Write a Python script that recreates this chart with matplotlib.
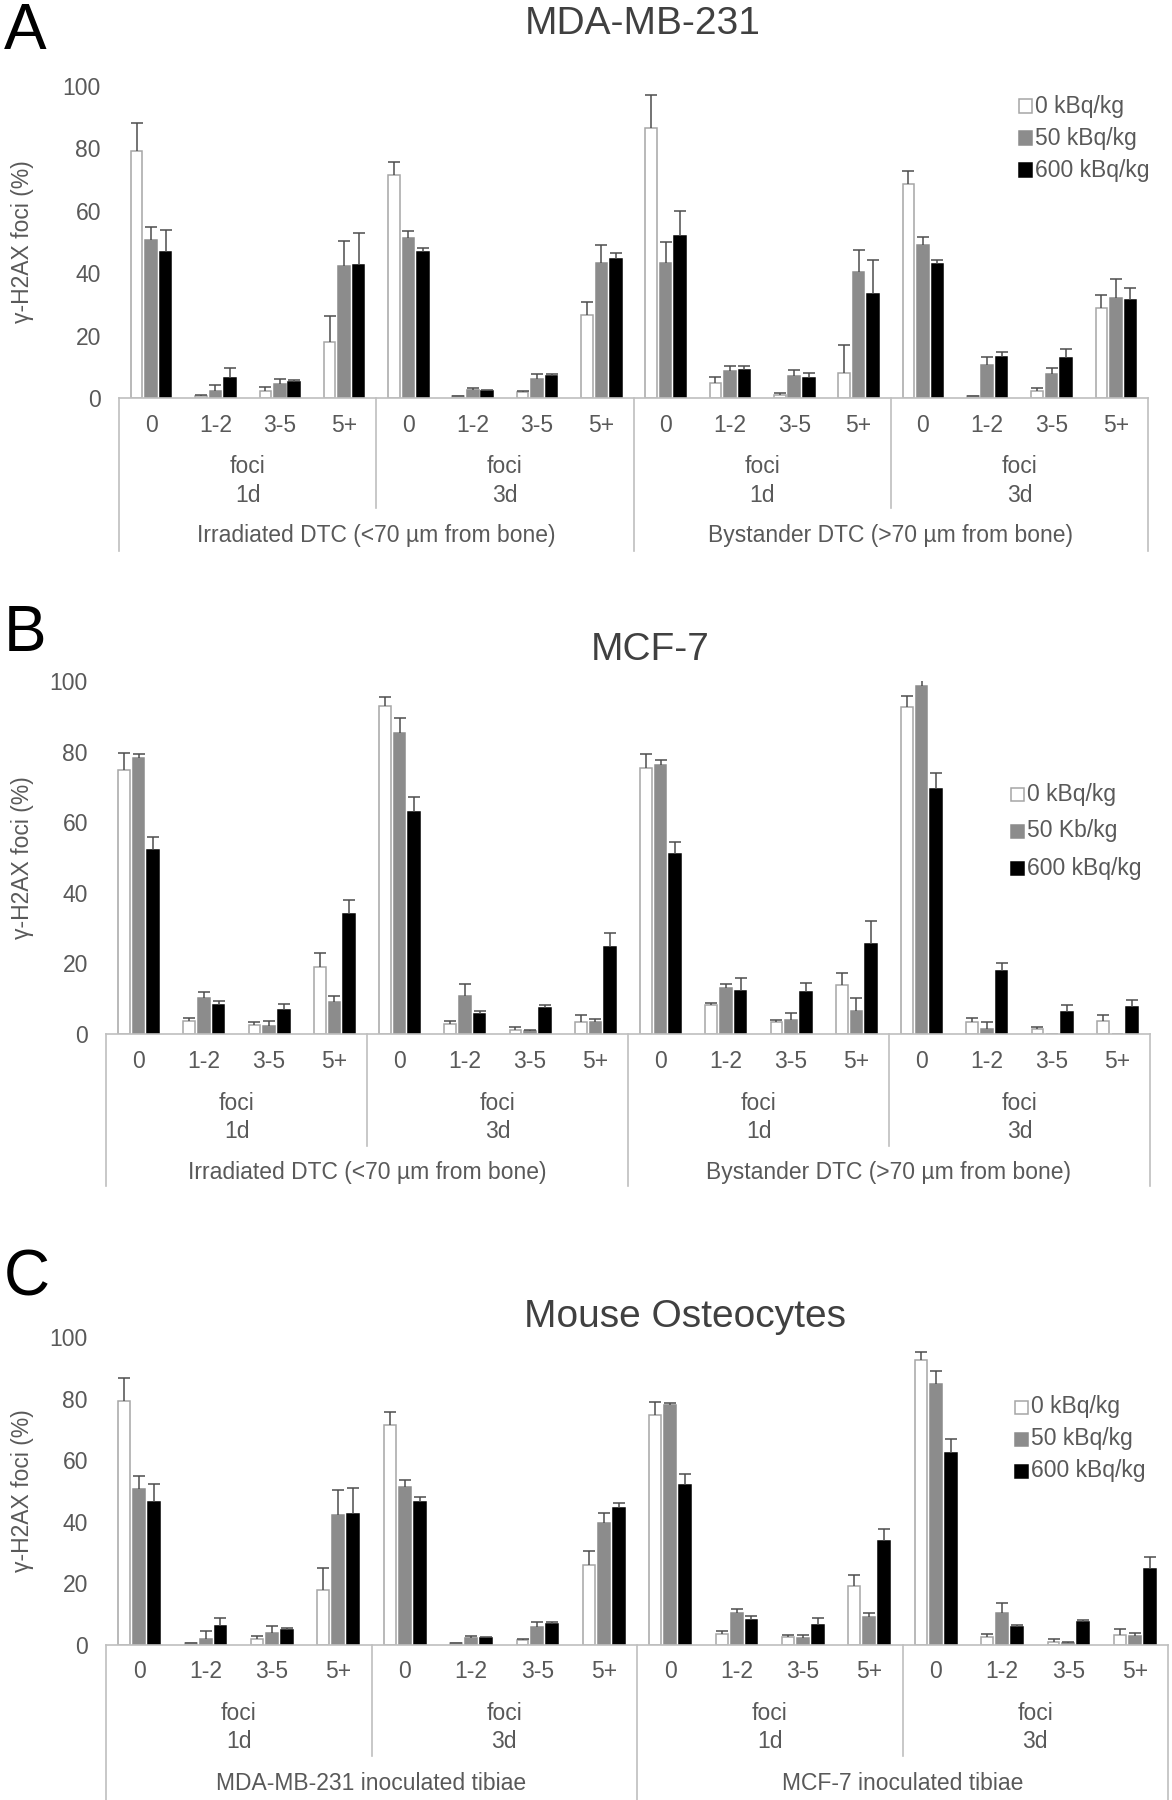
import matplotlib
matplotlib.use("Agg")
import matplotlib.pyplot as plt
import numpy as np
from matplotlib.lines import Line2D
from matplotlib.patches import Rectangle
from matplotlib.transforms import blended_transform_factory

plt.rcParams["font.family"] = ["Liberation Sans", "DejaVu Sans"]

W, H = 1172, 1800
TEXT = "#595959"
AXIS = "#bfbfbf"
FILLS = ["white", "#8c8c8c", "black"]
EDGES = ["#a6a6a6", "#8c8c8c", "black"]
FS = 16.5

FOCI = ["0", "1-2", "3-5", "5+"]
DAYS = ["1d", "3d", "1d", "3d"]

# panel A: MDA-MB-231
A_LEGEND = ["0 kBq/kg", "50 kBq/kg", "600 kBq/kg"]
A_GROUPS = ["Irradiated DTC (<70 µm from bone)", "Bystander DTC (>70 µm from bone)"]
A_0 = [79.3, 0.6, 2.1, 17.8, 71.5, 0.5, 1.9, 26.6, 86.5, 4.8, 0.9, 8.0, 68.5, 0.5, 2.1, 28.8]
A_0_ERR = [8.9, 0.3, 1.3, 8.5, 4.3, 0.1, 0.3, 4.2, 10.5, 1.8, 0.6, 9.1, 4.1, 0.2, 1.0, 4.1]
A_50 = [50.7, 2.2, 4.4, 42.4, 51.3, 2.7, 6.1, 43.2, 43.2, 8.5, 7.0, 40.4, 49.1, 10.7, 7.7, 32.2]
A_50_ERR = [4.2, 2.0, 1.7, 7.9, 2.3, 0.6, 1.5, 5.9, 6.7, 1.7, 2.0, 6.9, 2.4, 2.5, 1.9, 5.8]
A_600 = [46.8, 6.5, 5.2, 42.6, 46.8, 2.4, 7.0, 44.7, 51.9, 9.0, 6.4, 33.3, 43.0, 13.3, 12.9, 31.5]
A_600_ERR = [7.2, 3.2, 0.5, 10.4, 1.3, 0.2, 0.6, 1.7, 7.9, 1.1, 1.7, 11.0, 1.3, 1.6, 2.7, 3.7]

# panel B: MCF-7
B_LEGEND = ["0 kBq/kg", "50 Kb/kg", "600 kBq/kg"]
B_GROUPS = A_GROUPS
B_0 = [74.9, 3.8, 2.5, 18.9, 92.9, 2.7, 1.1, 3.4, 75.4, 8.1, 3.3, 13.8, 92.5, 3.3, 1.3, 3.8]
B_0_ERR = [4.7, 0.8, 0.8, 4.0, 2.7, 1.1, 1.0, 1.9, 3.9, 0.6, 0.8, 3.6, 3.3, 1.2, 0.6, 1.7]
B_50 = [78.3, 10.2, 2.2, 9.2, 85.3, 10.7, 0.8, 3.3, 76.3, 12.9, 4.1, 6.5, 98.7, 1.5, 0.0, 0.0]
B_50_ERR = [1.0, 1.6, 1.6, 1.5, 4.3, 3.5, 0.3, 1.0, 1.3, 1.2, 1.8, 3.8, 1.5, 1.9, 0.0, 0.0]
B_600 = [52.0, 8.1, 6.7, 34.1, 62.9, 5.7, 7.5, 24.7, 51.0, 12.3, 12.0, 25.6, 69.3, 17.8, 6.3, 7.6]
B_600_ERR = [3.9, 1.2, 1.8, 3.9, 4.1, 0.8, 0.7, 4.0, 3.5, 3.6, 2.5, 6.4, 4.5, 2.4, 2.0, 2.1]

# panel C: mouse osteocytes
C_LEGEND = ["0 kBq/kg", "50 kBq/kg", "600 kBq/kg"]
C_GROUPS = ["MDA-MB-231 inoculated tibiae", "MCF-7 inoculated tibiae"]
C_0 = [79.3, 0.5, 2.1, 17.8, 71.3, 0.5, 1.6, 26.1, 74.6, 3.6, 2.5, 19.1, 92.6, 2.6, 1.1, 3.3]
C_0_ERR = [7.3, 0.2, 0.9, 7.1, 4.5, 0.1, 0.3, 4.5, 4.3, 0.8, 0.6, 3.5, 2.5, 1.1, 0.7, 1.9]
C_50 = [50.6, 2.0, 4.0, 42.1, 51.3, 2.4, 5.8, 39.5, 77.9, 10.3, 2.4, 9.0, 84.8, 10.4, 0.7, 3.0]
C_50_ERR = [4.3, 2.5, 2.2, 8.2, 2.4, 0.6, 1.7, 3.5, 0.8, 1.4, 1.0, 1.4, 4.0, 3.1, 0.3, 1.0]
C_600 = [46.3, 6.2, 5.0, 42.5, 46.3, 2.4, 6.8, 44.6, 51.9, 8.1, 6.6, 33.7, 62.5, 5.7, 7.4, 24.7]
C_600_ERR = [6.1, 2.7, 0.5, 8.4, 1.6, 0.2, 0.6, 1.4, 3.5, 1.2, 2.1, 4.0, 4.5, 0.7, 0.7, 4.0]

# layout in full-size pixels (y from top)
PANELS = [
    dict(letter="A", letter_y=2, title="MDA-MB-231", title_xy=(643, 24),
         box=(119, 1148, 86, 398), rows=(426, 467, 495, 536), seps=(508, 551),
         legend=(1019, 106, 32), legend_labels=A_LEGEND, groups=A_GROUPS,
         series=[(A_0, A_0_ERR), (A_50, A_50_ERR), (A_600, A_600_ERR)]),
    dict(letter="B", letter_y=604, title="MCF-7", title_xy=(650, 650),
         box=(106, 1150, 681, 1034), rows=(1062, 1104, 1131, 1172), seps=(1146, 1186),
         legend=(1011, 794, 37), legend_labels=B_LEGEND, groups=B_GROUPS,
         series=[(B_0, B_0_ERR), (B_50, B_50_ERR), (B_600, B_600_ERR)]),
    dict(letter="C", letter_y=1249, title="Mouse Osteocytes", title_xy=(685, 1317),
         box=(106, 1168, 1337, 1645), rows=(1672, 1714, 1741, 1783), seps=(1756, 1800),
         legend=(1015, 1407, 32), legend_labels=C_LEGEND, groups=C_GROUPS,
         series=[(C_0, C_0_ERR), (C_50, C_50_ERR), (C_600, C_600_ERR)]),
]


def fx(px):
    return px / W


def fy(px):
    return 1 - px / H


fig = plt.figure(figsize=(W / 100, H / 100), dpi=100)

for p in PANELS:
    left, right, top, bottom = p["box"]
    ax = fig.add_axes([fx(left), fy(bottom), fx(right - left), (bottom - top) / H])
    x = np.arange(16)
    width = 0.18
    step = 0.225
    for i, (vals, errs) in enumerate(p["series"]):
        vals = np.asarray(vals)
        errs = np.asarray(errs)
        xs = x + (i - 1) * step
        ax.bar(xs, vals, width, color=FILLS[i], edgecolor=EDGES[i], linewidth=1.1, zorder=2)
        keep = vals > 0
        ax.vlines(xs[keep], vals[keep], vals[keep] + errs[keep], color="#4d4d4d", lw=1.1, zorder=3)
        ax.plot(xs[keep], vals[keep] + errs[keep], ls="none", marker="_", ms=8,
                mew=1.1, color="#4d4d4d", zorder=3)

    ax.set_xlim(-0.5, 15.5)
    ax.set_ylim(0, 100)
    ax.set_yticks(range(0, 101, 20))
    ax.set_xticks([])
    ax.tick_params(axis="y", length=0, pad=13, labelsize=FS, labelcolor=TEXT)
    for s in ("left", "right", "top"):
        ax.spines[s].set_visible(False)
    ax.spines["bottom"].set_color(AXIS)
    ax.spines["bottom"].set_linewidth(1.2)
    ax.set_ylabel("γ-H2AX foci (%)", fontsize=16.5, color=TEXT)
    ax.yaxis.set_label_coords((34 - left) / (right - left), 0.5)

    tr = blended_transform_factory(ax.transData, fig.transFigure)
    cat_y, foci_y, day_y, grp_y = p["rows"]
    for k in range(16):
        fig.text(k, fy(cat_y), FOCI[k % 4], transform=tr, ha="center", va="center",
                 fontsize=FS, color=TEXT)
    for g in range(4):
        xc = 4 * g + 1.5
        fig.text(xc, fy(foci_y), "foci", transform=tr, ha="center", va="center",
                 fontsize=FS, color=TEXT)
        fig.text(xc, fy(day_y), DAYS[g], transform=tr, ha="center", va="center",
                 fontsize=FS, color=TEXT)
    for g in range(2):
        fig.text(8 * g + 3.5, fy(grp_y), p["groups"][g], transform=tr, ha="center",
                 va="center", fontsize=FS, color=TEXT)
    inner_end, outer_end = p["seps"]
    for xb in (3.5, 11.5):
        fig.add_artist(Line2D([xb, xb], [fy(bottom), fy(inner_end)], transform=tr,
                              color=AXIS, lw=1.2))
    for xb in (-0.5, 7.5, 15.5):
        fig.add_artist(Line2D([xb, xb], [fy(bottom), fy(outer_end)], transform=tr,
                              color=AXIS, lw=1.2))

    # legend
    lx, ly, dy = p["legend"]
    for i, lab in enumerate(p["legend_labels"]):
        yc = ly + i * dy
        fig.add_artist(Rectangle((fx(lx), fy(yc + 6.5)), fx(13), 13 / H,
                                 transform=fig.transFigure, facecolor=FILLS[i],
                                 edgecolor=EDGES[i], lw=1.1))
        fig.text(fx(lx + 16), fy(yc), lab, ha="left", va="center", fontsize=FS,
                 color=TEXT)

    fig.text(fx(p["title_xy"][0]), fy(p["title_xy"][1]), p["title"], ha="center",
             va="center", fontsize=28, color="#404040")
    fig.text(fx(4), fy(p["letter_y"]), p["letter"], ha="left", va="top", fontsize=46,
             color="black")

fig.savefig("out.png", dpi=100)
